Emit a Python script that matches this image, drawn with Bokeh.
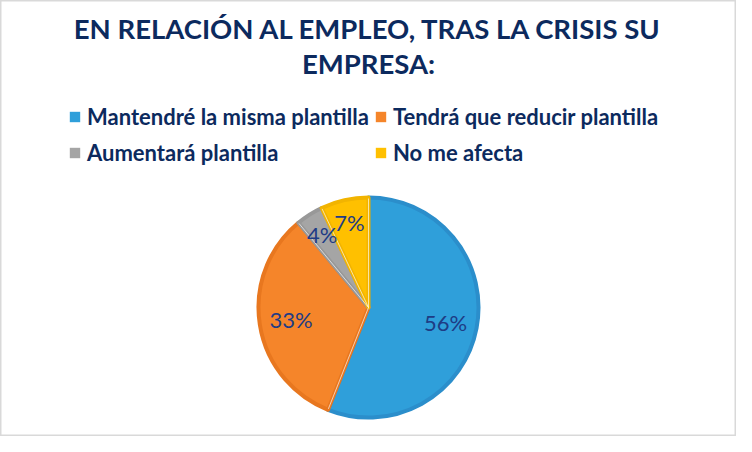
from math import pi, cos, sin, nan

from bokeh.core.properties import value
from bokeh.embed import file_html
from bokeh.models import ColumnDataSource, Legend, LegendItem, Range1d
from bokeh.plotting import figure
from bokeh.resources import INLINE

title_lines = ["EN RELACIÓN AL EMPLEO, TRAS LA CRISIS SU", "EMPRESA:"]
categories = ["Mantendré la misma plantilla", "Tendrá que reducir plantilla",
              "Aumentará plantilla", "No me afecta"]
shares = [56, 33, 4, 7]
pct_labels = ["56%", "33%", "4%", "7%"]

colors = ["#2F9FDA", "#F5852A", "#A5A5A5", "#FFC000"]
rims = ["#2B8ECB", "#E8771F", "#989898", "#F2B400"]
navy = "#0C2A5E"
font = "Lato"

W, H = 736, 436
cx, cy, R = 368, 129, 112
label_r = [0.70, 0.70, 0.77, 0.78]

total = sum(shares)
starts, ends, lx, ly = [], [], [], []
acc = 0
for i, s in enumerate(shares):
    a0 = pi / 2 - 2 * pi * acc / total
    acc += s
    a1 = pi / 2 - 2 * pi * acc / total
    starts.append(a0)
    ends.append(a1)
    mid = (a0 + a1) / 2
    lx.append(cx + label_r[i] * R * cos(mid))
    ly.append(cy + label_r[i] * R * sin(mid))

src = ColumnDataSource(dict(cat=categories, start=starts, end=ends,
                            color=colors, rim=rims, lx=lx, ly=ly, lab=pct_labels))

p = figure(width=W, height=H, x_range=Range1d(0, W), y_range=Range1d(0, H),
           output_backend="svg", toolbar_location=None, min_border=0)
p.axis.visible = False
p.grid.visible = False
p.outline_line_color = "#D9D9D9"
p.outline_line_width = 2
p.background_fill_color = "white"

p.wedge(x=cx, y=cy, radius=R - 2, start_angle="start", end_angle="end",
        direction="clock", fill_color="color", line_color="rim", line_width=4,
        line_join="round", source=src)
# thin light seams between the slices
p.ray(x=cx, y=cy, length=R - 3, length_units="data", angle="start",
      line_color="white", line_width=0.8, line_alpha=0.8, source=src)

p.text(x="lx", y="ly", text="lab", source=src, text_align="center",
       text_baseline="middle", text_color="#1E3C85",
       text_font=value(font), text_font_size="22px")

p.text(x=[W / 2, W / 2], y=[408, 373], text=title_lines, text_align="center",
       text_baseline="alphabetic", text_color=navy, text_font=value(font),
       text_font_style="bold", text_font_size="27.5px")

# legend proxies: quads with no visible geometry, only their swatch is drawn
items = []
for c, col in zip(categories, colors):
    r = p.quad(left=[nan], right=[nan], top=[nan], bottom=[nan],
               fill_color=col, line_color=None)
    items.append(LegendItem(label=c, renderers=[r]))

legend = Legend(items=items, ncols=2, orientation="horizontal", location=(68, 268),
                label_text_font=font, label_text_font_style="bold",
                label_text_font_size="22px", label_text_color=navy,
                glyph_width=13, glyph_height=13, label_standoff=6, spacing=5,
                label_height=31, padding=0, margin=0, border_line_color=None,
                background_fill_alpha=0)
p.add_layout(legend)

open("out.html", "w").write(file_html(p, INLINE))
